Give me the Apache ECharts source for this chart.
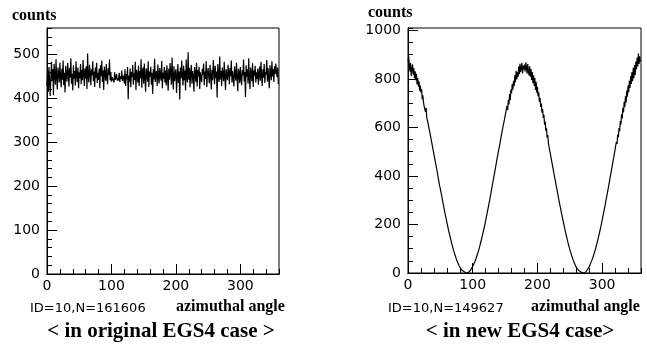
<!DOCTYPE html>
<html><head><meta charset="utf-8">
<script src="https://cdn.jsdelivr.net/npm/echarts@6/dist/echarts.min.js"></script>
<style>html,body{margin:0;padding:0;background:#fff}#c{width:647px;height:349px}</style>
</head><body><div id="c"></div>
<script>
// Histogram: 360 bins of 1 degree (azimuthal angle 0..360)
const binWidth = 1;
const xTickLabels = [0, 100, 200, 300];
const leftYTicks = [0, 100, 200, 300, 400, 500];
const rightYTicks = [0, 200, 400, 600, 800, 1000];

// < in original EGS4 case >  (ID=10, N=161606)
const originalCounts = [
428,462,415,471,438,405,452,483,440,466,
407,478,455,431,489,446,420,470,458,436,
481,449,425,467,442,486,430,458,413,474,
452,438,480,461,427,469,447,491,433,456,
418,475,444,462,429,484,451,437,470,423,
459,446,478,432,465,441,487,454,428,468,
445,473,421,502,449,436,476,458,430,466,
452,484,439,461,426,470,447,481,435,458,
442,467,423,475,450,486,437,463,419,472,
455,440,478,446,432,469,453,488,441,460,
438,448,444,452,436,459,442,447,455,440,
446,441,458,437,450,444,463,439,452,447,
434,466,428,455,443,471,398,452,437,468,
425,460,448,476,431,457,442,483,419,465,
451,436,474,428,462,445,489,424,458,470,
433,479,447,415,468,456,438,484,426,461,
449,472,431,458,410,466,443,490,437,455,
462,428,477,446,434,469,451,440,485,423,
458,444,471,436,463,429,475,450,417,467,
442,480,455,431,493,448,420,473,439,457,
466,412,449,478,435,461,397,470,445,486,
452,429,474,441,463,418,488,447,436,505,
443,469,425,458,476,433,462,449,415,471,
456,438,481,427,464,450,472,421,459,446,
437,467,453,479,430,461,444,484,426,457,
469,448,434,476,452,420,465,441,487,459,
432,474,446,461,402,478,451,437,495,443,
462,428,470,455,439,483,447,419,466,453,
441,476,458,432,469,450,486,436,462,445,
427,473,454,440,481,448,416,467,459,435,
471,446,430,464,452,488,438,460,403,475,
449,466,433,491,445,421,470,457,439,480,
426,463,451,474,436,459,444,468,431,456,
472,440,483,452,428,466,447,478,435,460,
454,487,438,469,446,423,475,458,441,484,
450,466,437,473,455,479,461,448,470,432
];

// < in new EGS4 case >  (ID=10, N=149627)
const newCounts = [
872,893,858,831,866,812,839,860,818,845,
803,832,795,821,778,804,769,790,751,773,
744,758,716,733,702,687,695,664,681,641,
629,617,622,589,577,581,548,551,519,522,
490,476,481,448,433,441,404,387,392,358,
347,331,319,304,296,276,262,255,235,229,
210,197,189,172,165,150,143,128,121,107,
101,88,83,71,66,55,51,42,38,30,
27,20,18,12,10,6,4,2,1,0,
0,1,1,3,5,7,10,14,16,22,
25,33,36,44,49,59,63,75,80,92,
97,112,117,133,139,155,161,178,185,203,
211,229,236,257,263,284,291,312,318,343,
347,372,378,401,406,431,437,462,466,491,
494,520,523,548,551,579,576,607,603,632,
628,661,654,689,672,714,695,738,712,756,
741,779,756,792,770,815,786,834,798,827,
808,851,819,862,828,845,866,823,854,838,
859,831,868,846,822,861,834,815,852,809,
841,796,828,783,815,772,804,755,788,743,
768,729,745,706,722,684,699,661,676,639,
652,611,624,586,597,558,569,533,541,505,
507,476,478,447,449,418,417,389,386,360,
356,332,326,303,298,276,269,249,241,223,
215,198,190,173,165,150,143,127,122,107,
101,88,84,71,67,55,51,41,38,29,
27,19,18,12,10,6,5,2,1,0,
0,1,2,2,5,6,10,13,18,20,
27,30,39,42,52,56,67,71,84,88,
102,106,123,127,145,149,168,171,191,197,
218,222,245,248,272,276,301,303,329,332,
358,361,389,390,419,418,449,447,479,475,
511,504,541,532,571,559,598,585,626,612,
654,637,681,662,706,684,728,703,752,727,
773,745,792,763,811,779,828,791,846,803,
857,816,872,839,888,851,905,862,893,871
];

function histData(counts) {
  const d = counts.map((v, i) => [i * binWidth, v]);
  d.push([counts.length * binWidth, counts[counts.length - 1]]);
  return d;
}

const black = '#000';
const tickFont = { color: black, fontFamily: 'DejaVu Sans', fontSize: 14 };

function xAxes(g) {
  const base = { gridIndex: g, type: 'value', min: 0, max: 360, position: 'bottom',
    axisLine: { show: true, onZero: false, lineStyle: { color: black, width: 1 } },
    splitLine: { show: false } };
  return [
    Object.assign({}, base, { interval: 20, axisTick: { inside: true, length: 5, lineStyle: { color: black } }, axisLabel: { show: false } }),
    Object.assign({}, base, { interval: 100, axisTick: { inside: true, length: 10, lineStyle: { color: black } },
      axisLabel: Object.assign({ show: true, margin: 5, showMaxLabel: false,
        formatter: v => xTickLabels.includes(v) ? String(v) : '' }, tickFont) })
  ];
}
function yAxes(g, max, major, minor, labels) {
  const base = { gridIndex: g, type: 'value', min: 0, max: max, position: 'left',
    axisLine: { show: true, onZero: false, lineStyle: { color: black, width: 1 } },
    splitLine: { show: false } };
  return [
    Object.assign({}, base, { interval: minor, axisTick: { inside: true, length: 5, lineStyle: { color: black } }, axisLabel: { show: false } }),
    Object.assign({}, base, { interval: major, axisTick: { inside: true, length: 10, lineStyle: { color: black } },
      axisLabel: Object.assign({ show: true, margin: 7, showMaxLabel: false,
        formatter: v => labels.includes(v) ? String(v) : '' }, tickFont) })
  ];
}

const serif = '"Liberation Serif", "Times New Roman", serif';
function txt(text, x, y, size, align) {
  return { type: 'text', style: { text: text, x: x, y: y, fill: black,
    font: 'bold ' + size + 'px ' + serif, textAlign: align || 'left', textVerticalAlign: 'middle' } };
}
function sansTxt(text, x, y) {
  return { type: 'text', style: { text: text, x: x, y: y, fill: black,
    font: '13px "DejaVu Sans"', textAlign: 'left', textVerticalAlign: 'middle' } };
}

const chart = echarts.init(document.getElementById('c'), null, { renderer: 'canvas' });
chart.setOption({
  animation: false,
  backgroundColor: '#fff',
  grid: [
    { left: 47, top: 28, width: 232, height: 246, show: true, borderColor: black, borderWidth: 1 },
    { left: 408, top: 28, width: 233, height: 245, show: true, borderColor: black, borderWidth: 1 }
  ],
  xAxis: [].concat(xAxes(0), xAxes(1)),
  yAxis: [].concat(yAxes(0, 560, 100, 20, leftYTicks), yAxes(1, 1010, 200, 50, rightYTicks)),
  series: [
    { type: 'line', xAxisIndex: 0, yAxisIndex: 0, step: 'end', showSymbol: false, silent: true,
      lineStyle: { color: black, width: 1.2 }, data: histData(originalCounts) },
    { type: 'line', xAxisIndex: 2, yAxisIndex: 2, step: 'end', showSymbol: false, silent: true,
      lineStyle: { color: black, width: 1.2 }, data: histData(newCounts) }
  ],
  graphic: [
    txt('counts', 12, 16, 16),
    txt('counts', 368, 13, 16),
    sansTxt('ID=10,N=161606', 30, 309),
    sansTxt('ID=10,N=149627', 388, 309),
    txt('azimuthal angle', 176, 307, 16),
    txt('azimuthal angle', 531, 307, 16),
    txt('< in original EGS4 case >', 161, 332, 21, 'center'),
    txt('< in new EGS4 case>', 520, 332, 21, 'center')
  ]
});
</script>
</body></html>
